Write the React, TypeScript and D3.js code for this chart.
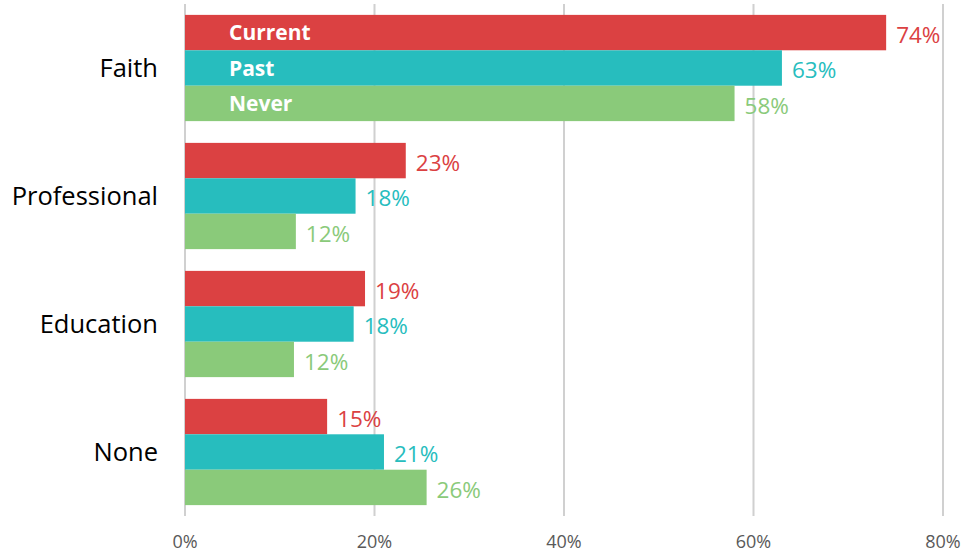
import React from "react";
import * as d3 from "d3";

// chart values
const categories = ["Faith", "Professional", "Education", "None"];
const seriesNames = ["Current", "Past", "Never"];
const current = [0.74, 0.233, 0.19, 0.15];
const past = [0.63, 0.18, 0.178, 0.21];
const never = [0.58, 0.117, 0.115, 0.255];
const tickValues = [0, 0.2, 0.4, 0.6, 0.8];

const colors = ["#DB4142", "#27BDBE", "#8ACA7A"];

export default function App() {
  const svgWidth = 965, svgHeight = 554;
  const x0 = 185, x1 = 943;
  const top = 4, bottom = 516;

  const xScale = d3.scaleLinear().domain([0, 0.8]).range([x0, x1]);
  const yScale = d3.scaleBand().domain(categories).range([top, bottom]).paddingInner(0.17).paddingOuter(0.085);
  const subScale = d3.scaleBand().domain(seriesNames).range([0, yScale.bandwidth()]);

  const values = [current, past, never];
  const fmt = d3.format(".0%");
  const font = "'Open Sans', sans-serif";

  return (
    <div style={{ position: "absolute", left: 0, top: 0 }}>
      <svg width={svgWidth} height={svgHeight} style={{ display: "block", background: "#fff" }}>
        {/* grid */}
        {tickValues.map(t => (
          <line key={"g" + t} x1={xScale(t)} x2={xScale(t)} y1={top} y2={bottom} stroke="#D0D0D0" strokeWidth={2} />
        ))}
        {/* bars */}
        {categories.map((c, i) => (
          <g key={c} transform={`translate(0, ${yScale(c)})`}>
            {seriesNames.map((s, j) => {
              const v = values[j][i];
              const y = subScale(s)!;
              const h = subScale.bandwidth();
              return (
                <g key={s}>
                  <rect x={xScale(0)} y={y} width={xScale(v) - xScale(0)} height={h} fill={colors[j]} />
                  <text x={xScale(v) + 10} y={y + h / 2 + 2} dy="0.36em" fontFamily={font} fontSize={22.5} fill={colors[j]}>
                    {fmt(Math.round(v * 100) / 100)}
                  </text>
                  {i === 0 && (
                    <text x={229} y={y + h / 2} dy="0.36em" fontFamily={font} fontSize={21} fontWeight="bold" fill="#fff">
                      {s}
                    </text>
                  )}
                </g>
              );
            })}
          </g>
        ))}
        {/* category labels */}
        {categories.map(c => (
          <text key={"l" + c} x={158} y={yScale(c)! + yScale.bandwidth() / 2} dy="0.36em" textAnchor="end" fontFamily={font} fontSize={25.5} fill="#000">
            {c}
          </text>
        ))}
        {/* x axis ticks */}
        {tickValues.map(t => (
          <text key={"t" + t} x={xScale(t)} y={542} dy="0.36em" textAnchor="middle" fontFamily={font} fontSize={18} fill="#595959">
            {fmt(t)}
          </text>
        ))}
      </svg>
    </div>
  );
}
